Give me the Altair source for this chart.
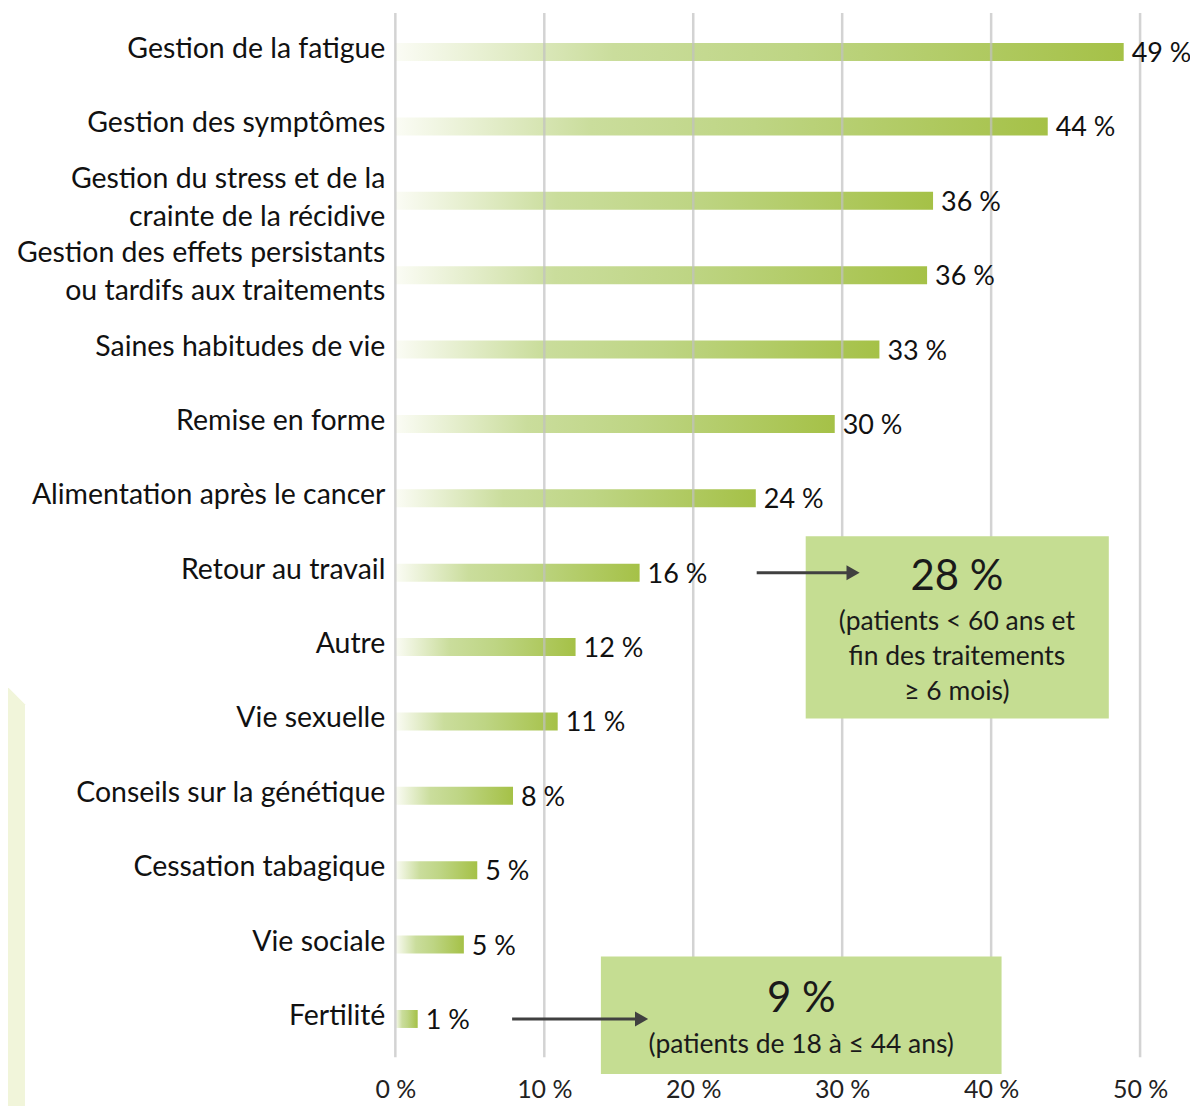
import altair as alt
import pandas as pd

categories = [
    "Gestion de la fatigue",
    "Gestion des symptômes",
    "Gestion du stress et de la|crainte de la récidive",
    "Gestion des effets persistants|ou tardifs aux traitements",
    "Saines habitudes de vie",
    "Remise en forme",
    "Alimentation après le cancer",
    "Retour au travail",
    "Autre",
    "Vie sexuelle",
    "Conseils sur la génétique",
    "Cessation tabagique",
    "Vie sociale",
    "Fertilité",
]
values = [48.9, 43.8, 36.1, 35.7, 32.5, 29.5, 24.2, 16.4, 12.1, 10.9, 7.9, 5.5, 4.6, 1.5]
value_labels = ["49 %", "44 %", "36 %", "36 %", "33 %", "30 %", "24 %", "16 %",
                "12 %", "11 %", "8 %", "5 %", "5 %", "1 %"]
tick_values = [0, 10, 20, 30, 40, 50]

# annotation boxes: x range (%), y range (row units), headline, sub lines
box_x = [27.55, 13.8]
box_x2 = [47.9, 40.7]
box_y = [6.51, 12.16]
box_y2 = [8.96, 13.74]
box_head = ["28 %", "9 %"]
box_head_x = [37.7, 27.25]
box_head_y = [7.06, 12.73]
sub_text = ["(patients < 60 ans et", "fin des traitements", "≥ 6 mois)", "(patients de 18 à ≤ 44 ans)"]
sub_x = [37.7, 37.7, 37.7, 27.25]
sub_y = [7.66, 8.14, 8.60, 13.35]
arrow_x = [24.26, 7.84]
arrow_x2 = [31.2, 17.0]
arrow_row = [7, 13]

FONT = "Lato"
W, H = 746, 1043
STEP = H / len(categories)

df = pd.DataFrame({"cat": categories, "value": values, "label": value_labels,
                   "row": list(range(len(categories)))})
df["y1"] = df["row"] - 9 / STEP
df["y2"] = df["row"] + 9 / STEP
df["nl"] = df["cat"].str.count(r"\|")
df["ty"] = df["row"] - (df["nl"] * 19 + 3) / STEP

xs = alt.Scale(domain=[0, 50], nice=False, zero=True)
ys = alt.Scale(domain=[-0.5, 13.5], reverse=True, nice=False, zero=False)
x_axis = alt.Axis(values=tick_values, labelExpr="datum.value + ' %'", labelFont=FONT,
                  labelFontSize=25, labelColor="#222222", domain=False, ticks=False,
                  grid=False, labelPadding=21, labelFlush=False, labelOverlap=False,
                  title=None)

gradient = {
    "gradient": "linear", "x1": 0, "x2": 1, "y1": 0, "y2": 0,
    "stops": [
        {"offset": 0.0, "color": "#fbfcf5"},
        {"offset": 0.3, "color": "#cadd9c"},
        {"offset": 0.55, "color": "#bed584"},
        {"offset": 1.0, "color": "#a5c147"},
    ],
}

base = alt.Chart(df)

bars = base.mark_rect(color=gradient).encode(
    x=alt.X("zero:Q", scale=xs, axis=x_axis),
    x2="value:Q",
    y=alt.Y("y1:Q", scale=ys, axis=None),
    y2="y2:Q",
).transform_calculate(zero="0")

grid_df = pd.DataFrame({"t": tick_values})
grid = alt.Chart(grid_df).mark_rule(color="#c0c0c0", strokeWidth=2.5, opacity=0.7).encode(
    x=alt.X("t:Q", scale=xs, axis=x_axis),
    y=alt.value(-2), y2=alt.value(H + 1),
)

value_text = base.mark_text(align="left", baseline="middle", dx=8, dy=2,
                            font=FONT, fontSize=27, color="#111111").encode(
    x=alt.X("value:Q", scale=xs, axis=x_axis), y=alt.Y("row:Q", scale=ys, axis=None),
    text="label:N")

cat_text = base.mark_text(align="right", baseline="middle", dx=-10, lineBreak="|",
                          lineHeight=38, font=FONT, fontSize=28.5, color="#111111").encode(
    x=alt.datum(0, scale=xs, axis=x_axis), y=alt.Y("ty:Q", scale=ys, axis=None),
    text="cat:N")

box_df = pd.DataFrame({"x": box_x, "x2": box_x2, "y": box_y, "y2": box_y2,
                       "head": box_head, "hx": box_head_x, "hy": box_head_y})
boxes = alt.Chart(box_df).mark_rect(color="#c5dd92").encode(
    x=alt.X("x:Q", scale=xs, axis=x_axis), x2="x2:Q",
    y=alt.Y("y:Q", scale=ys, axis=None), y2="y2:Q")
heads = alt.Chart(box_df).mark_text(font=FONT, fontSize=42, color="#1a1a1a",
                                    baseline="middle").encode(
    x=alt.X("hx:Q", scale=xs, axis=x_axis), y=alt.Y("hy:Q", scale=ys, axis=None),
    text="head:N")

sub_df = pd.DataFrame({"t": sub_text, "x": sub_x, "y": sub_y})
subs = alt.Chart(sub_df).mark_text(font=FONT, fontSize=26.5, color="#1a1a1a",
                                   baseline="middle").encode(
    x=alt.X("x:Q", scale=xs, axis=x_axis), y=alt.Y("y:Q", scale=ys, axis=None),
    text="t:N")

arr_df = pd.DataFrame({"x": arrow_x, "x2": arrow_x2, "y": arrow_row})
arr_lines = alt.Chart(arr_df).mark_rule(color="#404040", strokeWidth=3).encode(
    x=alt.X("x:Q", scale=xs, axis=x_axis), x2="xe:Q",
    y=alt.Y("y:Q", scale=ys, axis=None)
).transform_calculate(xe="datum.x2 - 0.6")
arr_heads = alt.Chart(arr_df).mark_point(shape="triangle-right", filled=True, size=230,
                                         color="#404040", opacity=1, xOffset=-7).encode(
    x=alt.X("x2:Q", scale=xs, axis=x_axis), y=alt.Y("y:Q", scale=ys, axis=None))

deco = alt.Chart(pd.DataFrame({"a": [0]})).mark_rect(color="#f1f5da").encode(
    x=alt.value(-396), x2=alt.value(-371), y=alt.value(691), y2=alt.value(1200))
deco_tri = alt.Chart(pd.DataFrame({"a": [0]})).mark_point(
    shape="M -1 -1 L 1 1 L -1 1 Z", filled=True, size=700, color="#f1f5da", opacity=1).encode(
    x=alt.value(-383.5), y=alt.value(678))

chart = alt.layer(deco, deco_tri, bars, grid, value_text, cat_text, boxes, heads, subs,
                  arr_lines, arr_heads).properties(
    width=W, height=H,
    background="white",
    autosize=alt.AutoSizeParams(type="none"),
    padding={"left": 388, "top": 6, "right": 50, "bottom": 49},
).configure_view(stroke=None)

chart.save("out.html", embed_options={"renderer": "svg", "actions": False})
